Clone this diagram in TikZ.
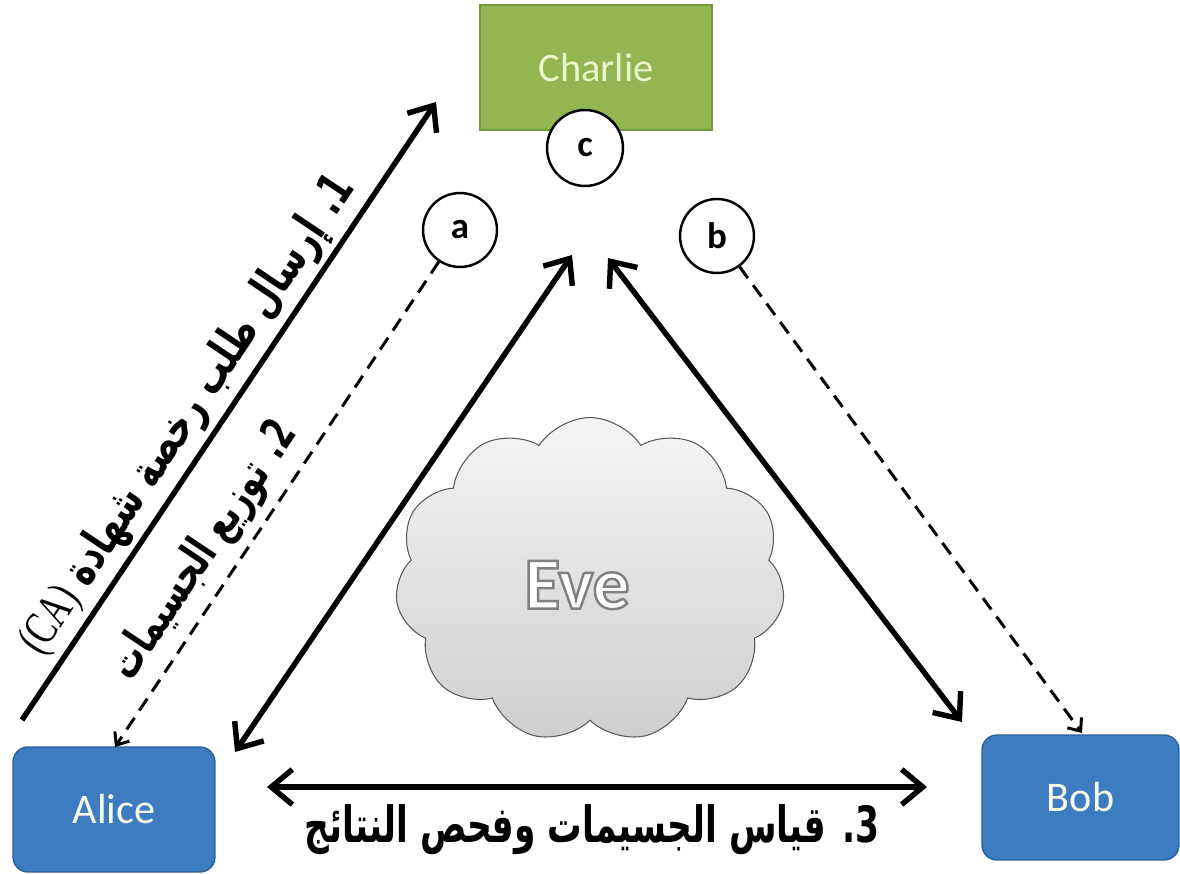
\documentclass[tikz,border=0pt]{standalone}
\usepackage{fontspec}
\usepackage{graphicx}
\usetikzlibrary{arrows.meta,shapes.symbols,shapes.geometric}
\setmainfont{Carlito}
\newfontfamily\arabicfont[Script=Arabic]{DejaVu Sans}
\newfontfamily\latinserif{Liberation Serif}
\TeXXeTstate=1
\definecolor{chgreen}{RGB}{146,182,82}
\definecolor{chgreenb}{RGB}{118,150,62}
\definecolor{chtext}{RGB}{236,246,200}
\definecolor{boxblue}{RGB}{62,124,193}
\definecolor{boxblueb}{RGB}{46,94,150}
\definecolor{cloudline}{RGB}{90,90,90}
\newcommand{\outlinedtext}[1]{\special{pdf:literal direct 2 Tr 0.5 0.5 0.5 RG 1.4 w}#1\special{pdf:literal direct 0 Tr}}
\begin{document}
\begin{tikzpicture}[x=0.02cm,y=-0.02cm,
  every node/.style={inner sep=0pt},
  party/.style={rounded corners=0.3cm, fill=boxblue, draw=boxblueb, line width=0.8pt,
    text=chtext!40!white, font=\fontsize{24}{28}\selectfont},
  letter/.style={circle, draw=black, line width=1.4pt, fill=white, minimum size=1.48cm,
    font=\bfseries\fontsize{21}{24}\selectfont},
  thickarrow/.style={line width=3.1pt, -{Straight Barb[length=12pt,width=20pt]}},
  dblarrow/.style={line width=3.1pt, {Straight Barb[length=12pt,width=20pt]}-{Straight Barb[length=12pt,width=20pt]}},
  dasharrow/.style={line width=1.7pt, dash pattern=on 8pt off 5pt, -{Straight Barb[length=6pt,width=10pt]}},
  artext/.style={font=\arabicfont\bfseries}
]
\useasboundingbox (0,0) rectangle (1180,874);

% parties
\node[fill=chgreen, draw=chgreenb, line width=0.8pt, minimum width=4.64cm, minimum height=2.5cm,
      text=chtext, font=\fontsize{23}{27}\selectfont] (charlie) at (596,67.5) {Charlie};
\node[party, minimum width=4.04cm, minimum height=2.5cm] (alice) at (114,809.5) {Alice};
\node[party, minimum width=3.94cm, minimum height=2.5cm] (bob) at (1080.5,797.5) {Bob};

% letter circles
\node[letter, minimum size=1.52cm] (c) at (585,148) {c};
\node[letter] (a) at (460,230) {a};
\node[letter] (b) at (717,236) {b};

% cloud
\node[cloud, cloud puffs=11, cloud puff arc=115, aspect=1.2, minimum width=7.8cm, minimum height=6.5cm,
      draw=cloudline, line width=0.6pt, top color=gray!8, bottom color=gray!38] (cloud) at (590,580) {};
\node[text=white, font=\bfseries\fontsize{42}{48}\selectfont] (eve) at (577,585) {\outlinedtext{Eve}};

% connector end points
\coordinate (r1s) at (22,720);
\coordinate (r1e) at (436,102);
\coordinate (atip) at (115,747);
\coordinate (btip) at (1082,733);
\coordinate (acA) at (235,752);
\coordinate (acC) at (572,255);
\coordinate (cbC) at (608,258);
\coordinate (cbB) at (962,722);
\coordinate (abA) at (267,787);
\coordinate (abB) at (927,787);

% connectors
\draw[thickarrow] (r1s) -- (r1e);
\draw[dasharrow] (a) -- (atip);
\draw[dasharrow] (b) -- (btip);
\draw[dblarrow] (acA) -- (acC);
\draw[dblarrow] (cbC) -- (cbB);
\draw[dblarrow] (abA) -- (abB);

% labels
\path (r1s) -- (r1e) node[pos=0.465, sloped, above=4pt, artext] (t1)
  {\resizebox{11.3cm}{!}{\scalebox{1}[1.4]{\beginR 1{}. إرسال طلب رخصة شهادة \beginL{\latinserif\mdseries (CA)}\endL\endR}}};
\path (atip) -- (a) node[pos=0.365, sloped, above=6pt, artext] (t2)
  {\resizebox{6cm}{!}{\scalebox{1}[1.45]{\beginR 2{}. توزيع الجسيمات\endR}}};
\node[artext] (t3) at (592,830)
  {\resizebox{11.5cm}{!}{\scalebox{1}[1.45]{\beginR 3{}. قياس الجسيمات وفحص النتائج\endR}}};
\end{tikzpicture}
\end{document}
